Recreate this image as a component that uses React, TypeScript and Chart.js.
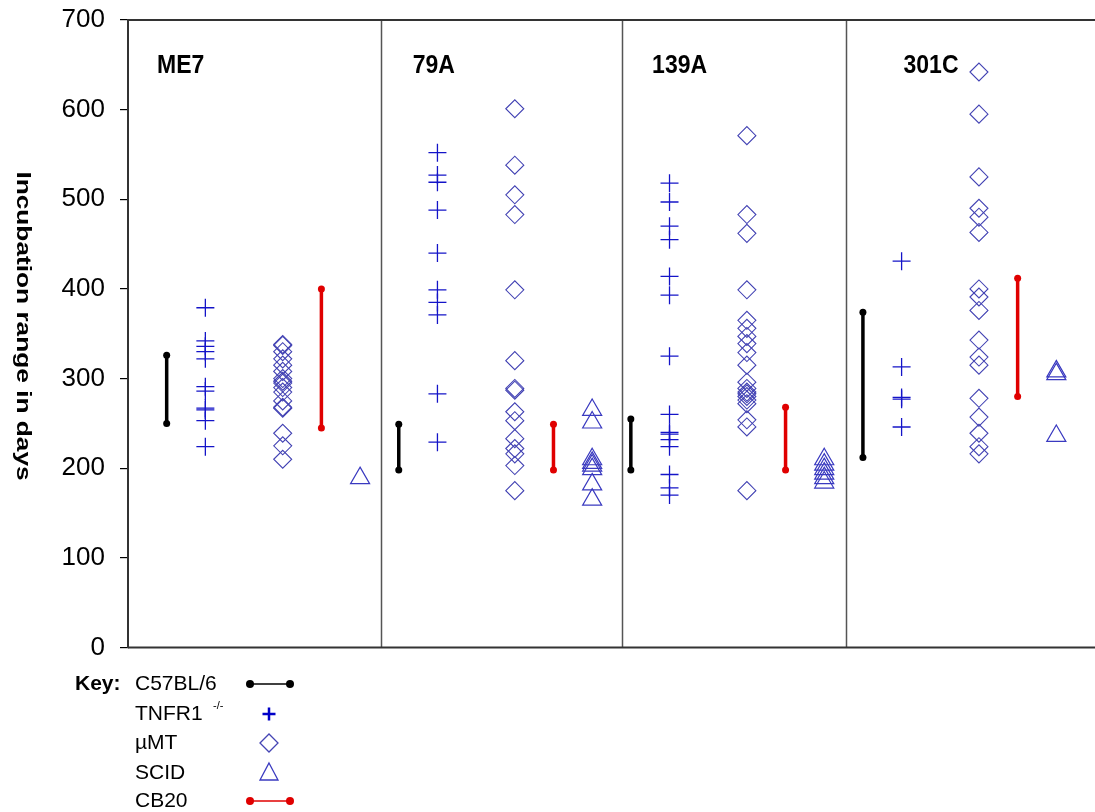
import React, { useEffect, useRef } from "react";
import { Chart, registerables } from "chart.js";

Chart.register(...registerables);

// ---------- data ----------
const strains = ["ME7", "79A", "139A", "301C"];
const c57Low = [250, 198, 198, 212];
const c57High = [326, 249, 255, 374];
const cb20Low = [245, 198, 198, 280];
const cb20High = [400, 249, 268, 412];
const tnfrME7 = [379, 342, 336, 330, 322, 291, 286, 267, 265, 253, 224];
const tnfr79A = [552, 527, 519, 488, 440, 399, 385, 371, 283, 229];
const tnfr139A = [518, 497, 470, 455, 414, 393, 325, 260, 240, 238, 232, 224, 193, 178, 170];
const tnfr301C = [431, 313, 279, 277, 246];
const umtME7 = [338, 337, 330, 322, 315, 308, 300, 297, 295, 290, 285, 275, 268, 267, 239, 225, 210];
const umt79A = [601, 538, 505, 483, 399, 320, 289, 287, 263, 253, 233, 222, 216, 203, 175];
const umt139A = [571, 483, 462, 399, 365, 356, 347, 339, 329, 315, 296, 289, 285, 283, 280, 276, 272, 254, 246, 175];
const umt301C = [642, 595, 525, 490, 480, 463, 400, 391, 376, 343, 324, 315, 278, 257, 239, 224, 216];
const scidME7 = [189];
const scid79A = [265, 251, 210, 206, 203, 199, 182, 165];
const scid139A = [210, 204, 199, 194, 189, 184];
const scid301C = [308, 305, 236];
const yTicks = [0, 100, 200, 300, 400, 500, 600, 700];
const keyLabels = ["C57BL/6", "TNFR1", "\u00b5MT", "SCID", "CB20"];

const tnfr = [tnfrME7, tnfr79A, tnfr139A, tnfr301C];
const umt = [umtME7, umt79A, umt139A, umt301C];
const scid = [scidME7, scid79A, scid139A, scid301C];

// ---------- layout (x in axis units) ----------
const GROUP = 6;
const OFF = { c57: 1, tnfr: 2, umt: 4, cb20: 5, scid: 6 };
const separators = [6.54, 12.77, 18.56];
const labelX = [0.75, 7.36, 13.55, 20.05];

const BLUE_CROSS = "#1414c8";
const BLUE_DIAMOND = "#4444b4";
const BLUE_TRI = "#3a3ac0";
const FONT = "'Liberation Sans', Arial, sans-serif";

function stretchedText(ctx: CanvasRenderingContext2D, text: string, x: number, y: number, font: string, sy: number, align: CanvasTextAlign = "left") {
  ctx.save();
  ctx.translate(x, y);
  ctx.scale(1, sy);
  ctx.font = font;
  ctx.textAlign = align;
  ctx.textBaseline = "middle";
  ctx.fillStyle = "#000";
  ctx.fillText(text, 0, 0);
  ctx.restore();
}

const decorPlugin = {
  id: "decor",
  beforeDatasetsDraw(chart: any) {
    const { ctx, chartArea, scales } = chart;
    const x = scales.x;
    ctx.save();
    ctx.strokeStyle = "#555";
    ctx.lineWidth = 1.5;
    separators.forEach((s) => {
      const px = Math.round(x.getPixelForValue(s)) + 0.5;
      ctx.beginPath();
      ctx.moveTo(px, chartArea.top);
      ctx.lineTo(px, chartArea.bottom);
      ctx.stroke();
    });
    ctx.strokeStyle = "#333";
    ctx.lineWidth = 2;
    ctx.beginPath();
    ctx.moveTo(chartArea.left, chartArea.top);
    ctx.lineTo(chartArea.right, chartArea.top);
    ctx.moveTo(chartArea.left, chartArea.bottom);
    ctx.lineTo(chartArea.right, chartArea.bottom);
    ctx.stroke();
    ctx.restore();
  },
  afterDraw(chart: any) {
    const { ctx, scales } = chart;
    const x = scales.x;
    const y = scales.y;
    // panel labels
    strains.forEach((s, i) => {
      stretchedText(ctx, s, x.getPixelForValue(labelX[i]), y.getPixelForValue(649), `bold 23px ${FONT}`, 1.13);
    });
    // y title (reads top to bottom)
    ctx.save();
    ctx.translate(23, 326);
    ctx.rotate(Math.PI / 2);
    ctx.scale(1.25, 1);
    ctx.font = `bold 21px ${FONT}`;
    ctx.textAlign = "center";
    ctx.textBaseline = "middle";
    ctx.fillStyle = "#000";
    ctx.fillText("Incubation range in days", 0, 0);
    ctx.restore();

    // key
    const rows = [684, 714, 743, 773, 801];
    stretchedText(ctx, "Key:", 75, rows[0], `bold 21px ${FONT}`, 1.0);
    keyLabels.forEach((t, i) => {
      stretchedText(ctx, t, 135, rows[i], `21px ${FONT}`, 1.0);
    });
    ctx.save();
    ctx.font = `11px ${FONT}`;
    ctx.fillStyle = "#000";
    ctx.textBaseline = "middle";
    ctx.fillText("-/-", 213, 706);
    ctx.restore();

    const sx = 269;
    const seg = (yy: number, color: string) => {
      ctx.save();
      ctx.strokeStyle = color;
      ctx.fillStyle = color;
      ctx.lineWidth = 1.5;
      ctx.beginPath();
      ctx.moveTo(250, yy);
      ctx.lineTo(290, yy);
      ctx.stroke();
      [250, 290].forEach((cx) => {
        ctx.beginPath();
        ctx.arc(cx, yy, 4, 0, Math.PI * 2);
        ctx.fill();
      });
      ctx.restore();
    };
    seg(rows[0], "#000");
    seg(rows[4], "#e00000");
    ctx.save();
    ctx.strokeStyle = "#0000c8";
    ctx.lineWidth = 2.5;
    ctx.beginPath();
    ctx.moveTo(sx - 6.5, rows[1]);
    ctx.lineTo(sx + 6.5, rows[1]);
    ctx.moveTo(sx, rows[1] - 6.5);
    ctx.lineTo(sx, rows[1] + 6.5);
    ctx.stroke();
    ctx.strokeStyle = BLUE_DIAMOND;
    ctx.lineWidth = 1.3;
    ctx.beginPath();
    ctx.moveTo(sx - 9, rows[2]);
    ctx.lineTo(sx, rows[2] - 9);
    ctx.lineTo(sx + 9, rows[2]);
    ctx.lineTo(sx, rows[2] + 9);
    ctx.closePath();
    ctx.stroke();
    ctx.strokeStyle = BLUE_TRI;
    ctx.beginPath();
    ctx.moveTo(sx, rows[3] - 10);
    ctx.lineTo(sx + 9, rows[3] + 7);
    ctx.lineTo(sx - 9, rows[3] + 7);
    ctx.closePath();
    ctx.stroke();
    ctx.restore();
  },
};

function rangeSets(low: number[], high: number[], off: number, color: string) {
  return low.map((lo, g) => ({
    label: "range",
    data: [
      { x: g * GROUP + off, y: lo },
      { x: g * GROUP + off, y: high[g] },
    ],
    showLine: true,
    borderColor: color,
    backgroundColor: color,
    borderWidth: 3.5,
    pointRadius: 3.5,
    pointBorderWidth: 0,
    pointBackgroundColor: color,
  }));
}

function pointSet(groups: number[][], off: number, style: string, radius: number, color: string, width: number) {
  const data: { x: number; y: number }[] = [];
  groups.forEach((vals, g) => vals.forEach((v) => data.push({ x: g * GROUP + off, y: v })));
  return {
    label: style,
    data,
    pointStyle: style,
    pointRadius: radius,
    borderColor: color,
    backgroundColor: "rgba(0,0,0,0)",
    pointBorderColor: color,
    pointBackgroundColor: "rgba(0,0,0,0)",
    pointBorderWidth: width,
    showLine: false,
  };
}

export default function App() {
  const ref = useRef<HTMLCanvasElement | null>(null);
  useEffect(() => {
    if (!ref.current) return;
    const chart = new Chart(ref.current, {
      type: "scatter",
      data: {
        datasets: [
          ...rangeSets(c57Low, c57High, OFF.c57, "#000000"),
          ...rangeSets(cb20Low, cb20High, OFF.cb20, "#e00000"),
          pointSet(tnfr, OFF.tnfr, "cross", 9, BLUE_CROSS, 1.3),
          pointSet(umt, OFF.umt, "rectRot", 9, BLUE_DIAMOND, 1.1),
          pointSet(scid, OFF.scid, "triangle", 11, BLUE_TRI, 1.2),
        ] as any,
      },
      options: {
        animation: false,
        responsive: false,
        maintainAspectRatio: false,
        devicePixelRatio: 1,
        layout: { autoPadding: false, padding: { top: 20, right: 0, bottom: 164.5, left: 0 } },
        plugins: { legend: { display: false }, tooltip: { enabled: false } },
        scales: {
          x: {
            type: "linear",
            min: 0,
            max: 25,
            display: false,
          },
          y: {
            type: "linear",
            min: 0,
            max: 700,
            afterFit: (s: any) => {
              s.width = 128;
              s.paddingTop = 0;
              s.paddingBottom = 0;
              s.paddingLeft = 0;
              s.paddingRight = 0;
            },
            afterBuildTicks: (s: any) => {
              s.ticks = yTicks.map((v) => ({ value: v }));
            },
            ticks: {
              color: "#000",
              padding: 15,
              font: { family: FONT, size: 26 },
            },
            grid: {
              drawOnChartArea: false,
              drawTicks: true,
              tickLength: 8,
              color: "#000",
              lineWidth: 1.2,
            },
            border: { display: true, color: "#333", width: 2 },
          },
        },
      },
      plugins: [decorPlugin],
    });
    return () => chart.destroy();
  }, []);
  return (
    <div style={{ position: "absolute", left: 0, top: 0, width: 1095, height: 812, background: "#fff" }}>
      <canvas ref={ref} width={1095} height={812} style={{ display: "block", width: 1095, height: 812 }} />
    </div>
  );
}
